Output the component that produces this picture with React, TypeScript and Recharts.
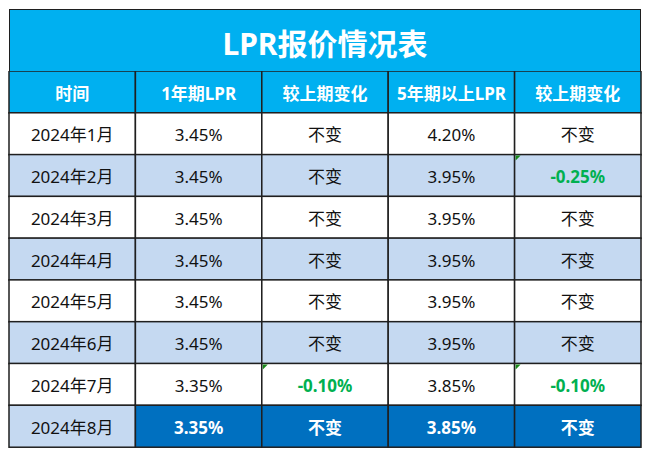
import { BarChart, Bar, XAxis, YAxis } from "recharts";

const title = "LPR报价情况表";
const headers = ["时间", "1年期LPR", "较上期变化", "5年期以上LPR", "较上期变化"];
const months = ["2024年1月", "2024年2月", "2024年3月", "2024年4月", "2024年5月", "2024年6月", "2024年7月", "2024年8月"];
const lpr1y = ["3.45%", "3.45%", "3.45%", "3.45%", "3.45%", "3.45%", "3.35%", "3.35%"];
const chg1y = ["不变", "不变", "不变", "不变", "不变", "不变", "-0.10%", "不变"];
const lpr5y = ["4.20%", "3.95%", "3.95%", "3.95%", "3.95%", "3.95%", "3.85%", "3.85%"];
const chg5y = ["不变", "-0.25%", "不变", "不变", "不变", "不变", "-0.10%", "不变"];
const highlightMonth = "2024年8月";

const FONT = "'Noto Sans', 'Noto Sans CJK SC', sans-serif";
const CYAN = "#00B0F0";
const BAND = "#C5D9F1";
const DARK = "#0070C0";
const GREEN = "#00B050";
const LINE = "#1f1f1f";

type Row = { row: string; kind: "head" | "body"; idx: number; [k: string]: any };

const rows: Row[] = [
  { row: "head", kind: "head", idx: -1, c0: 1, c1: 1, c2: 1, c3: 1, c4: 1, t0: headers[0], t1: headers[1], t2: headers[2], t3: headers[3], t4: headers[4] },
  ...months.map((m, i) => ({
    row: m, kind: "body" as const, idx: i,
    c0: 1, c1: 1, c2: 1, c3: 1, c4: 1,
    t0: m, t1: lpr1y[i], t2: chg1y[i], t3: lpr5y[i], t4: chg5y[i],
  })),
];

function cellShape(col: number) {
  return (props: any) => {
    const { x, y, width, height, payload } = props;
    const text: string = payload["t" + col];
    let fill = "#fff";
    let color = "#111";
    let weight = 400;
    if (payload.kind === "head") {
      fill = CYAN; color = "#fff"; weight = 700;
    } else {
      fill = payload.idx % 2 === 1 ? BAND : "#fff";
      if (payload.row === highlightMonth && col > 0) {
        fill = DARK; color = "#fff"; weight = 700;
      } else if (text.startsWith("-")) {
        color = GREEN; weight = 700;
      }
    }
    const flag = payload.kind === "body" && text.startsWith("-");
    return (
      <g>
        <rect x={x} y={y} width={width} height={height} fill={fill} stroke={LINE} strokeWidth={1.5} />
        {flag && <polygon points={`${x + 1},${y + 1} ${x + 6},${y + 1} ${x + 1},${y + 6}`} fill="#1a8a1a" />}
        <text x={x + width / 2} y={y + height / 2 + 1} textAnchor="middle" dominantBaseline="central"
          style={{ fontFamily: FONT, fontSize: 17, fontWeight: weight, fill: color }}>
          {text}
        </text>
      </g>
    );
  };
}

export default function App() {
  return (
    <div style={{ position: "relative", width: 634, height: 441, fontFamily: FONT }}>
      <div
        style={{
          position: "absolute", left: 1, top: 1, width: 632, height: 62, boxSizing: "border-box",
          background: CYAN, border: `1.5px solid ${LINE}`, borderBottom: "none",
          display: "flex", alignItems: "center", justifyContent: "center",
          color: "#fff", fontSize: 30, fontWeight: 700, paddingTop: 2,
        }}
      >
        {title}
      </div>
      <div style={{ position: "absolute", left: 0, top: 63 }}>
        <BarChart width={634} height={378} data={rows} layout="vertical" barCategoryGap={0}
          margin={{ top: 0, right: 1, bottom: 2, left: 1 }}>
          <XAxis type="number" domain={[0, 5]} hide />
          <YAxis type="category" dataKey="row" hide />
          {[0, 1, 2, 3, 4].map((c) => (
            <Bar key={c} dataKey={"c" + c} stackId="t" isAnimationActive={false} shape={cellShape(c)} />
          ))}
        </BarChart>
      </div>
    </div>
  );
}
